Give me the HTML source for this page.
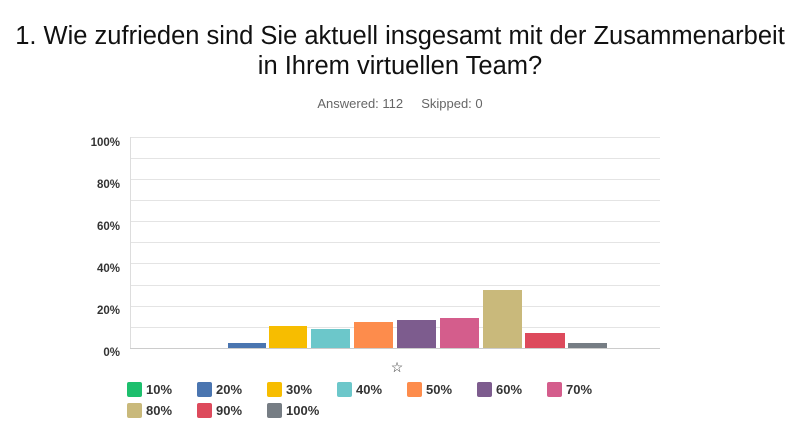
<!DOCTYPE html>
<html><head><style>
body{margin:0;width:800px;height:443px;background:#fff;font-family:"Liberation Sans",sans-serif;overflow:hidden;position:relative}
.t{position:absolute;left:0;width:800px;text-align:center;font-size:25.5px;color:#111}
.s{position:absolute;top:96px;left:0;width:800px;text-align:center;font-size:13px;color:#666}
</style></head><body>
<div class="t" style="top:22px">1. Wie zufrieden sind Sie aktuell insgesamt mit der Zusammenarbeit</div>
<div class="t" style="top:52px">in Ihrem virtuellen Team?</div>
<div class="s">Answered: 112&nbsp;&nbsp;&nbsp;&nbsp;&nbsp;Skipped: 0</div>
<svg width="800" height="443" style="position:absolute;left:0;top:0" font-family="Liberation Sans,sans-serif">
<g stroke="#e4e4e4" stroke-width="1">
<line x1="130" x2="660" y1="137.5" y2="137.5"/><line x1="130" x2="660" y1="158.5" y2="158.5"/>
<line x1="130" x2="660" y1="179.5" y2="179.5"/><line x1="130" x2="660" y1="200.5" y2="200.5"/>
<line x1="130" x2="660" y1="221.5" y2="221.5"/><line x1="130" x2="660" y1="242.5" y2="242.5"/>
<line x1="130" x2="660" y1="263.5" y2="263.5"/><line x1="130" x2="660" y1="285.5" y2="285.5"/>
<line x1="130" x2="660" y1="306.5" y2="306.5"/><line x1="130" x2="660" y1="327.5" y2="327.5"/>
</g>
<line x1="130.5" x2="130.5" y1="137" y2="348" stroke="#ddd"/>
<line x1="130" x2="660" y1="348.5" y2="348.5" stroke="#ccc"/>
<g font-size="11.5" font-weight="bold" fill="#333" text-anchor="end">
<text x="120" y="146">100%</text><text x="120" y="188">80%</text><text x="120" y="230">60%</text>
<text x="120" y="272">40%</text><text x="120" y="314">20%</text><text x="120" y="356">0%</text>
</g>
<rect x="228" y="343" width="38" height="5" fill="#4a75b0"/>
<rect x="269" y="326" width="38" height="22" fill="#f7bd00"/>
<rect x="311" y="329" width="39" height="19" fill="#6cc7ca"/>
<rect x="354" y="322" width="39" height="26" fill="#fd8c4c"/>
<rect x="397" y="320" width="39" height="28" fill="#7d5c8e"/>
<rect x="440" y="318" width="39" height="30" fill="#d45d8c"/>
<rect x="483" y="290" width="39" height="58" fill="#c9b97b"/>
<rect x="525" y="333" width="40" height="15" fill="#dd4a5c"/>
<rect x="568" y="343" width="39" height="5" fill="#767d84"/>
<text x="397" y="372" font-size="14" text-anchor="middle" fill="#333">☆</text>
<g font-size="13" font-weight="bold" fill="#333">
<rect x="127" y="382" width="15" height="15" rx="2" fill="#1dbf6d"/><text x="146" y="394">10%</text>
<rect x="197" y="382" width="15" height="15" rx="2" fill="#4a75b0"/><text x="216" y="394">20%</text>
<rect x="267" y="382" width="15" height="15" rx="2" fill="#f7bd00"/><text x="286" y="394">30%</text>
<rect x="337" y="382" width="15" height="15" rx="2" fill="#6cc7ca"/><text x="356" y="394">40%</text>
<rect x="407" y="382" width="15" height="15" rx="2" fill="#fd8c4c"/><text x="426" y="394">50%</text>
<rect x="477" y="382" width="15" height="15" rx="2" fill="#7d5c8e"/><text x="496" y="394">60%</text>
<rect x="547" y="382" width="15" height="15" rx="2" fill="#d45d8c"/><text x="566" y="394">70%</text>
<rect x="127" y="403" width="15" height="15" rx="2" fill="#c9b97b"/><text x="146" y="415">80%</text>
<rect x="197" y="403" width="15" height="15" rx="2" fill="#dd4a5c"/><text x="216" y="415">90%</text>
<rect x="267" y="403" width="15" height="15" rx="2" fill="#767d84"/><text x="286" y="415">100%</text>
</g>
</svg>
</body></html>
